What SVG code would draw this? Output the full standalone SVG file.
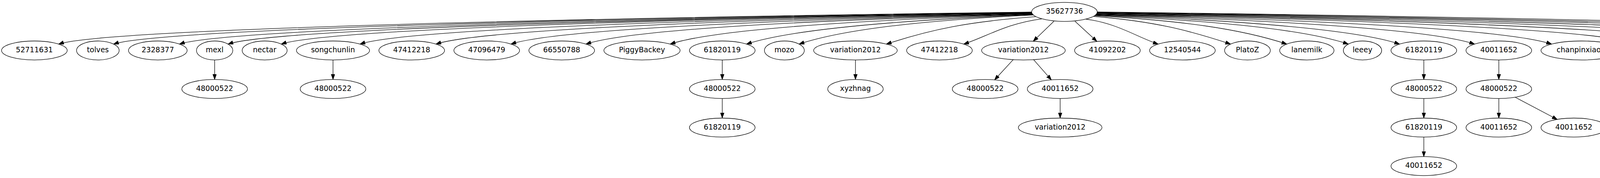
<svg xmlns="http://www.w3.org/2000/svg" width="5525" height="456" viewBox="0 0 5525 456">
<style>
.n ellipse{fill:none;stroke:#000;stroke-width:1.3}
.n text{font-family:"DejaVu Sans",sans-serif;font-size:18.67px;text-anchor:middle;fill:#000}
#edges path{fill:none;stroke:#000;stroke-width:1.3;marker-end:url(#arr)}
</style>
<defs>
<marker id="arr" markerUnits="userSpaceOnUse" markerWidth="14" markerHeight="10" refX="13.3" refY="4.7" orient="auto" viewBox="0 0 14 10">
<path d="M0,0 L13.3,4.7 L0,9.4 Z" fill="#000" stroke="#000" stroke-width="1"/>
</marker>
</defs>
<rect width="5525" height="456" fill="#fff"/>
<g id="edges">
<path d="M2641,30.8 C1520.1,45.6 270.2,73.3 150.2,112.9"/>
<path d="M2641.1,31.5 C1583.5,46.2 410.8,73.3 290.8,112.9"/>
<path d="M2641.4,32.2 C1659.5,46.7 579.5,73.3 459.5,112.9"/>
<path d="M2641.6,32.8 C1715.6,47.2 703.9,73.3 583.9,112.9"/>
<path d="M2641.9,33.5 C1777.1,47.8 840.1,73.3 720.1,112.9"/>
<path d="M2642.3,34.2 C1868,48.4 1041.7,73.3 921.7,112.9"/>
<path d="M2642.8,34.9 C1955.8,48.9 1236.2,73.3 1116.2,112.9"/>
<path d="M2643.3,35.6 C2042.5,49.5 1428.2,73.3 1308.2,112.9"/>
<path d="M2643.9,36.2 C2129.2,50 1620.2,73.3 1500.2,112.9"/>
<path d="M2644.6,36.9 C2226.6,50.6 1835.7,73.3 1715.7,112.9"/>
<path d="M2645.4,37.6 C2315,51.2 2031.2,73.3 1911.2,112.9"/>
<path d="M2646.2,38.3 C2376,51.7 2165.7,73.3 2045.7,112.9"/>
<path d="M2652,42.7 C2479.7,55.3 2384,75 2269.2,112.9"/>
<path d="M2667,48.3 C2577.1,59.9 2527.1,93.1 2467.2,112.9"/>
<path d="M2698,54.5 L2645,105.6"/>
<path d="M2752,54.5 L2808,106"/>
<path d="M2780,49 C2863.2,60.5 2909.4,94.6 2964.8,112.9"/>
<path d="M2799.2,42 C2957.2,54.8 3044.9,78.2 3150.2,112.9"/>
<path d="M2802.4,40 C3023.7,53.1 3174.1,73.3 3294.1,112.9"/>
<path d="M2803.6,39.1 C3095.2,52.4 3331.7,73.3 3451.7,112.9"/>
<path d="M2804.8,38.2 C3154.9,51.6 3462.8,73.3 3582.8,112.9"/>
<path d="M2805.6,37.4 C3241.7,51 3654.8,73.3 3774.8,112.9"/>
<path d="M2806.4,36.5 C3330.9,50.3 3852,73.3 3972,112.9"/>
<path d="M2807.2,35.6 C3433.4,49.5 4078.8,73.3 4198.8,112.9"/>
<path d="M2807.8,34.7 C3520.2,48.8 4270.8,73.3 4390.8,112.9"/>
<path d="M2808.2,33.8 C3606.8,48 4462.8,73.3 4582.8,112.9"/>
<path d="M2808.6,33 C3694.9,47.4 4658.2,73.3 4778.2,112.9"/>
<path d="M2808.8,32.2 C3791.6,46.7 4872.8,73.3 4992.8,112.9"/>
<path d="M2808.9,31.4 C3881.3,46.1 5072.1,73.3 5192.1,112.9"/>
<path d="M2809,30.6 C3986.3,45.4 5305.2,73.3 5425.2,112.9"/>
<path d="M549.5,153.6 L549.5,203.7"/>
<path d="M852.5,153.6 L852.5,203.7"/>
<path d="M1849,153.6 L1849,203.7"/>
<path d="M2190,153.6 L2190,203.7"/>
<path d="M2594,152.6 L2546,204.7"/>
<path d="M2646,152.9 L2691.5,204.6"/>
<path d="M3645,153.6 L3645,203.7"/>
<path d="M3837,153.6 L3837,203.7"/>
<path d="M4453,153.6 L4453,203.7"/>
<path d="M5055,153.6 L5055,203.7"/>
<path d="M1849,252.3 L1849,302.5"/>
<path d="M2714,252.3 L2714,302.5"/>
<path d="M3645,252.3 L3645,302.5"/>
<path d="M3837,252.3 L3837,302.5"/>
<path d="M3878.6,249 L3986.6,306"/>
<path d="M4453,252.3 L4453,302.5"/>
<path d="M5055,252.3 L5055,302.5"/>
<path d="M3645,351.1 L3645,401.2"/>
</g>
<g id="root" class="n"><ellipse cx="2725" cy="30.5" rx="84" ry="24.3"/><text x="2725" y="35.3">35627736</text></g>
<g id="r1_01" class="n"><ellipse cx="88" cy="129.3" rx="84" ry="24.3"/><text x="88" y="134.1">52711631</text></g>
<g id="r1_02" class="n"><ellipse cx="250.5" cy="129.3" rx="54.5" ry="24.3"/><text x="250.5" y="134.1">tolves</text></g>
<g id="r1_03" class="n"><ellipse cx="404" cy="129.3" rx="75" ry="24.3"/><text x="404" y="134.1">2328377</text></g>
<g id="r1_04" class="n"><ellipse cx="549.5" cy="129.3" rx="46.5" ry="24.3"/><text x="549.5" y="134.1">mexl</text></g>
<g id="r1_05" class="n"><ellipse cx="677.5" cy="129.3" rx="57.5" ry="24.3"/><text x="677.5" y="134.1">nectar</text></g>
<g id="r1_06" class="n"><ellipse cx="852.5" cy="129.3" rx="93.5" ry="24.3"/><text x="852.5" y="134.1">songchunlin</text></g>
<g id="r1_07" class="n"><ellipse cx="1054" cy="129.3" rx="84" ry="24.3"/><text x="1054" y="134.1">47412218</text></g>
<g id="r1_08" class="n"><ellipse cx="1246" cy="129.3" rx="84" ry="24.3"/><text x="1246" y="134.1">47096479</text></g>
<g id="r1_09" class="n"><ellipse cx="1438" cy="129.3" rx="84" ry="24.3"/><text x="1438" y="134.1">66550788</text></g>
<g id="r1_10" class="n"><ellipse cx="1643.5" cy="129.3" rx="97.5" ry="24.3"/><text x="1643.5" y="134.1">PiggyBackey</text></g>
<g id="r1_11" class="n"><ellipse cx="1849" cy="129.3" rx="84" ry="24.3"/><text x="1849" y="134.1">61820119</text></g>
<g id="r1_12" class="n"><ellipse cx="2008" cy="129.3" rx="51" ry="24.3"/><text x="2008" y="134.1">mozo</text></g>
<g id="r1_13" class="n"><ellipse cx="2190" cy="129.3" rx="107" ry="24.3"/><text x="2190" y="134.1">variation2012</text></g>
<g id="r1_14" class="n"><ellipse cx="2405" cy="129.3" rx="84" ry="24.3"/><text x="2405" y="134.1">47412218</text></g>
<g id="r1_15" class="n"><ellipse cx="2620" cy="129.3" rx="107" ry="24.3"/><text x="2620" y="134.1">variation2012</text></g>
<g id="r1_16" class="n"><ellipse cx="2835" cy="129.3" rx="84" ry="24.3"/><text x="2835" y="134.1">41092202</text></g>
<g id="r1_17" class="n"><ellipse cx="3027" cy="129.3" rx="84" ry="24.3"/><text x="3027" y="134.1">12540544</text></g>
<g id="r1_18" class="n"><ellipse cx="3193.5" cy="129.3" rx="58.5" ry="24.3"/><text x="3193.5" y="134.1">PlatoZ</text></g>
<g id="r1_19" class="n"><ellipse cx="3345.5" cy="129.3" rx="69.5" ry="24.3"/><text x="3345.5" y="134.1">lanemilk</text></g>
<g id="r1_20" class="n"><ellipse cx="3488" cy="129.3" rx="49" ry="24.3"/><text x="3488" y="134.1">leeey</text></g>
<g id="r1_21" class="n"><ellipse cx="3645" cy="129.3" rx="84" ry="24.3"/><text x="3645" y="134.1">61820119</text></g>
<g id="r1_22" class="n"><ellipse cx="3837" cy="129.3" rx="84" ry="24.3"/><text x="3837" y="134.1">40011652</text></g>
<g id="r1_23" class="n"><ellipse cx="4049" cy="129.3" rx="104" ry="24.3"/><text x="4049" y="134.1">chanpinxiaozi</text></g>
<g id="r1_24" class="n"><ellipse cx="4261" cy="129.3" rx="84" ry="24.3"/><text x="4261" y="134.1">54777821</text></g>
<g id="r1_25" class="n"><ellipse cx="4453" cy="129.3" rx="84" ry="24.3"/><text x="4453" y="134.1">42971889</text></g>
<g id="r1_26" class="n"><ellipse cx="4645" cy="129.3" rx="84" ry="24.3"/><text x="4645" y="134.1">49213105</text></g>
<g id="r1_27" class="n"><ellipse cx="4850" cy="129.3" rx="97" ry="24.3"/><text x="4850" y="134.1">dongdongmc</text></g>
<g id="r1_28" class="n"><ellipse cx="5055" cy="129.3" rx="84" ry="24.3"/><text x="5055" y="134.1">61820119</text></g>
<g id="r1_29" class="n"><ellipse cx="5275" cy="129.3" rx="112" ry="24.3"/><text x="5275" y="134.1">wennuandexin</text></g>
<g id="r1_30" class="n"><ellipse cx="5465.5" cy="129.3" rx="54.5" ry="24.3"/><text x="5465.5" y="134.1">tolves</text></g>
<g id="r2_01" class="n"><ellipse cx="549.5" cy="228" rx="84" ry="24.3"/><text x="549.5" y="232.8">48000522</text></g>
<g id="r2_02" class="n"><ellipse cx="852.5" cy="228" rx="84" ry="24.3"/><text x="852.5" y="232.8">48000522</text></g>
<g id="r2_03" class="n"><ellipse cx="1849" cy="228" rx="84" ry="24.3"/><text x="1849" y="232.8">48000522</text></g>
<g id="r2_04" class="n"><ellipse cx="2190" cy="228" rx="71" ry="24.3"/><text x="2190" y="232.8">xyzhnag</text></g>
<g id="r2_05" class="n"><ellipse cx="2522" cy="228" rx="84" ry="24.3"/><text x="2522" y="232.8">48000522</text></g>
<g id="r2_06" class="n"><ellipse cx="2714" cy="228" rx="84" ry="24.3"/><text x="2714" y="232.8">40011652</text></g>
<g id="r2_07" class="n"><ellipse cx="3645" cy="228" rx="84" ry="24.3"/><text x="3645" y="232.8">48000522</text></g>
<g id="r2_08" class="n"><ellipse cx="3837" cy="228" rx="84" ry="24.3"/><text x="3837" y="232.8">48000522</text></g>
<g id="r2_09" class="n"><ellipse cx="4453" cy="228" rx="84" ry="24.3"/><text x="4453" y="232.8">48000522</text></g>
<g id="r2_10" class="n"><ellipse cx="5055" cy="228" rx="84" ry="24.3"/><text x="5055" y="232.8">48000522</text></g>
<g id="r3_01" class="n"><ellipse cx="1849" cy="326.8" rx="84" ry="24.3"/><text x="1849" y="331.6">61820119</text></g>
<g id="r3_02" class="n"><ellipse cx="2714" cy="326.8" rx="107" ry="24.3"/><text x="2714" y="331.6">variation2012</text></g>
<g id="r3_03" class="n"><ellipse cx="3645" cy="326.8" rx="84" ry="24.3"/><text x="3645" y="331.6">61820119</text></g>
<g id="r3_04" class="n"><ellipse cx="3837" cy="326.8" rx="84" ry="24.3"/><text x="3837" y="331.6">40011652</text></g>
<g id="r3_05" class="n"><ellipse cx="4029" cy="326.8" rx="84" ry="24.3"/><text x="4029" y="331.6">40011652</text></g>
<g id="r3_06" class="n"><ellipse cx="4453" cy="326.8" rx="84" ry="24.3"/><text x="4453" y="331.6">42971889</text></g>
<g id="r3_07" class="n"><ellipse cx="5055" cy="326.8" rx="84" ry="24.3"/><text x="5055" y="331.6">61820119</text></g>
<g id="r4_01" class="n"><ellipse cx="3645" cy="425.5" rx="84" ry="24.3"/><text x="3645" y="430.3">40011652</text></g>
</svg>
